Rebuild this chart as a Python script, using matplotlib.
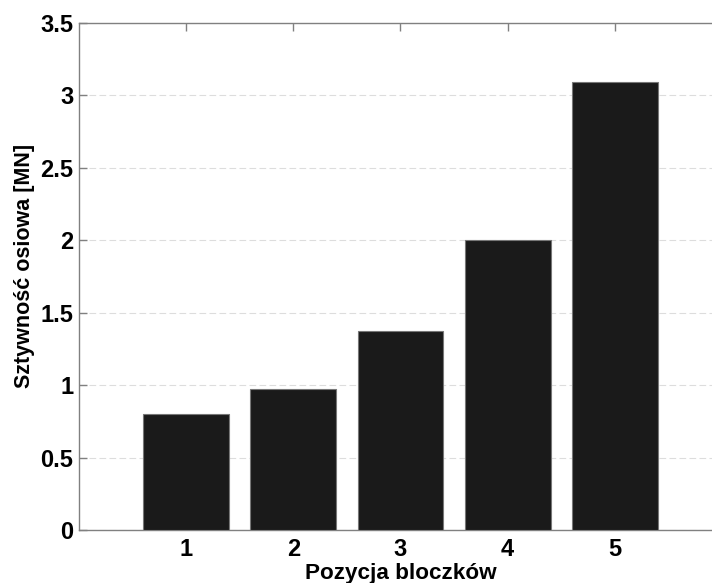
import matplotlib.pyplot as plt

# axial stiffness for each block position
positions = [1, 2, 3, 4, 5]
stiffness = [0.80, 0.975, 1.375, 2.0, 3.09]

plt.rcParams['font.family'] = ['Liberation Sans', 'DejaVu Sans']
plt.rcParams['font.weight'] = 'bold'

fig = plt.figure(figsize=(7.12, 5.83), dpi=100)
ax = fig.add_axes([79 / 712, 53 / 583, 643 / 712, 507 / 583])

ax.bar(positions, stiffness, width=0.8, color='#1a1a1a', edgecolor='#777777', linewidth=0.8, zorder=3)

ax.set_xlim(0, 6)
ax.set_ylim(0, 3.5)
ax.set_xticks(positions)
ax.set_yticks([0, 0.5, 1, 1.5, 2, 2.5, 3, 3.5])
ax.set_yticklabels(['0', '0.5', '1', '1.5', '2', '2.5', '3', '3.5'])

ax.yaxis.grid(True, linestyle=(0, (6, 3)), color='#dddddd', linewidth=0.8, zorder=0)
ax.set_axisbelow(True)

for s in ax.spines.values():
    s.set_color('#808080')
    s.set_linewidth(1.0)

ax.tick_params(direction='in', length=6, width=1, color='#808080', labelsize=17,
               top=True, right=True)
ax.tick_params(axis='x', pad=6)
ax.tick_params(axis='y', pad=4)

ax.set_xlabel('Pozycja bloczków', fontsize=16.2, fontweight='bold', labelpad=1)
ax.set_ylabel('Sztywność osiowa [MN]', fontsize=15.5, fontweight='bold')
ax.yaxis.set_label_coords(-0.068, 0.52)

fig.savefig('out.png', dpi=100)
